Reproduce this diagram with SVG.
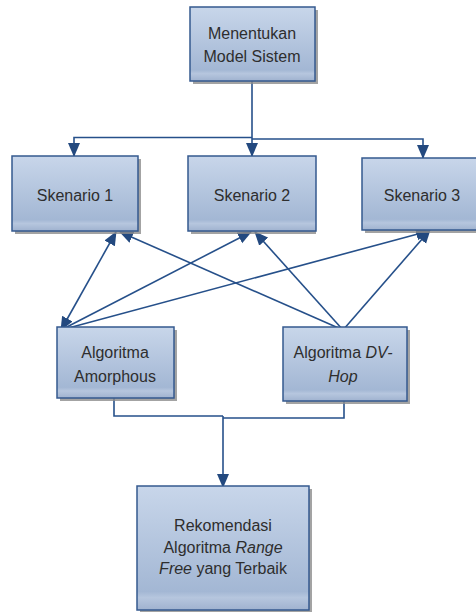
<svg xmlns="http://www.w3.org/2000/svg" width="476" height="612" viewBox="0 0 476 612">
<defs>
<linearGradient id="g" x1="0" y1="0" x2="0" y2="1">
<stop offset="0" stop-color="#c8d6ea"/>
<stop offset="0.85" stop-color="#a3b7d4"/>
<stop offset="0.9" stop-color="#b6c6de"/>
<stop offset="1" stop-color="#9fb2cf"/>
</linearGradient>
<marker id="ah" markerUnits="userSpaceOnUse" markerWidth="14" markerHeight="14" viewBox="0 0 14 14" refX="13" refY="7" orient="auto-start-reverse">
<path d="M0,1 L14,7 L0,13 Z" fill="#23497f"/>
</marker>
</defs>
<style>
.sh{fill:#8c8c8c;opacity:0.8}
.bx{fill:url(#g);stroke:#35598f;stroke-width:1.5}
.t{font-family:"Liberation Sans",Arial,sans-serif;font-size:16px;fill:#2e2e2e;text-anchor:middle}
.i{font-style:italic}
.c{fill:none;stroke:#26508a;stroke-width:1.6}
.ca{fill:none;stroke:#26508a;stroke-width:1.6;marker-end:url(#ah)}
</style>
<rect width="476" height="612" fill="#fff"/>
<g id="connectors">
<polyline class="c" points="252,81 252,138"/>
<polyline class="ca" points="252,137.5 74,137.5 74,156"/>
<polyline class="ca" points="252,138 252,156"/>
<polyline class="ca" points="252,139 423,139 423,158"/>
<line class="ca" x1="61" y1="330" x2="116" y2="232" marker-start="url(#ah)"/>
<line class="ca" x1="61" y1="330" x2="251" y2="232"/>
<line class="ca" x1="61" y1="330" x2="429" y2="231"/>
<line class="ca" x1="343" y1="330" x2="120" y2="232"/>
<line class="ca" x1="343" y1="330" x2="255" y2="232"/>
<line class="ca" x1="343" y1="330" x2="430" y2="230"/>
<polyline class="c" points="114,398 114,416 223,416"/>
<polyline class="c" points="344,401 344,418 223,418"/>
<polyline class="ca" points="223,416 223,487"/>
</g>
<g id="menentukan">
<rect class="sh" x="193" y="10" width="125" height="74"/>
<rect class="bx" x="190" y="7" width="125" height="74"/>
<text class="t" x="252" y="39">Menentukan</text>
<text class="t" x="252" y="62">Model Sistem</text>
</g>
<g id="skenario1">
<rect class="sh" x="15" y="159" width="126" height="75"/>
<rect class="bx" x="12" y="156" width="126" height="75"/>
<text class="t" x="75" y="201">Skenario 1</text>
</g>
<g id="skenario2">
<rect class="sh" x="191" y="159" width="125" height="75"/>
<rect class="bx" x="188" y="156" width="128" height="75"/>
<text class="t" x="252" y="201">Skenario 2</text>
</g>
<g id="skenario3">
<rect class="sh" x="365" y="161" width="122" height="72"/>
<rect class="bx" x="362" y="158" width="122" height="72"/>
<text class="t" x="422" y="201">Skenario 3</text>
</g>
<g id="amorphous">
<rect class="sh" x="60" y="330" width="117" height="71"/>
<rect class="bx" x="57" y="327" width="117" height="71"/>
<text class="t" x="115" y="358">Algoritma</text>
<text class="t" x="115" y="382">Amorphous</text>
</g>
<g id="dvhop">
<rect class="sh" x="286" y="330" width="124" height="74"/>
<rect class="bx" x="283" y="327" width="124" height="74"/>
<text class="t" x="343" y="358">Algoritma <tspan class="i">DV-</tspan></text>
<text class="t i" x="343" y="382">Hop</text>
</g>
<g id="rekomendasi">
<rect class="sh" x="140" y="489" width="172" height="124"/>
<rect class="bx" x="137" y="486" width="172" height="124"/>
<text class="t" x="223" y="531">Rekomendasi</text>
<text class="t" x="223" y="553">Algoritma <tspan class="i">Range</tspan></text>
<text class="t" x="223" y="574"><tspan class="i">Free</tspan> yang Terbaik</text>
</g>
</svg>
